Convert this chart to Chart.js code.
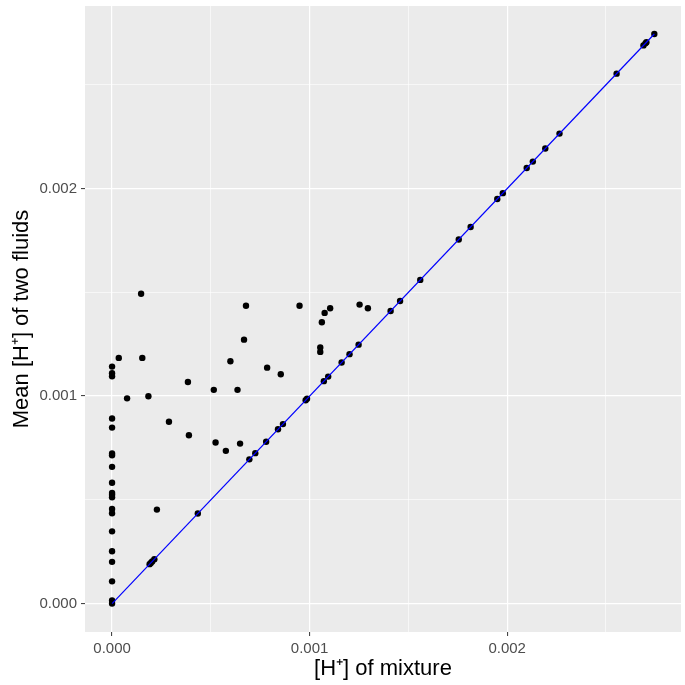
<!DOCTYPE html>
<html>
<head>
<meta charset="utf-8">
<script src="https://cdn.jsdelivr.net/npm/chart.js@4.4.1/dist/chart.umd.min.js"></script>
<style>
  html, body { margin: 0; padding: 0; background: #ffffff; }
  #plot { display: block; }
</style>
</head>
<body>
<canvas id="plot" width="685" height="685"></canvas>
<script>
// points off the identity line: [H+] of mixture vs mean [H+] of the two fluids
var mixX = [0, 0, 0, 0, 0, 0, 0, 0, 0, 0, 0, 0, 0, 0, 0, 0, 0, 0, 0,
  0.000034, 0.000076, 0.000147, 0.000153, 0.000184, 0.000227, 0.000288, 0.000384, 0.000389,
  0.000515, 0.000524, 0.000576, 0.000599, 0.000635, 0.000648, 0.000668, 0.000678, 0.000785,
  0.000854, 0.000949, 0.001054, 0.001054, 0.001062, 0.001076, 0.001104, 0.001253, 0.001295]
var meanY = [0.001142, 0.001110, 0.001095, 0.000892, 0.000848, 0.000723, 0.000715, 0.000659, 0.000582,
  0.000533, 0.000524, 0.000512, 0.000456, 0.000435, 0.000348, 0.000252, 0.000201, 0.000107, 0.000015,
  0.001184, 0.000989, 0.001493, 0.001184, 0.000999, 0.000453, 0.000876, 0.001068, 0.000811,
  0.001030, 0.000776, 0.000736, 0.001168, 0.001030, 0.000771, 0.001272, 0.001435, 0.001137,
  0.001105, 0.001435, 0.001234, 0.001213, 0.001356, 0.001401, 0.001423, 0.001441, 0.001423]

// points that sit on the line (same value on both axes)
var onLine = [0, 0.000190, 0.000196, 0.000203, 0.000214, 0.000434, 0.000695, 0.000725, 0.000780,
  0.000840, 0.000865, 0.000980, 0.000987, 0.001072, 0.001094, 0.001162, 0.001202, 0.001248,
  0.001410, 0.001458, 0.001560, 0.001755, 0.001815, 0.001950, 0.001978, 0.002099, 0.002130,
  0.002193, 0.002265, 0.002554, 0.002690, 0.002700, 0.002705, 0.002745]

var tickValues = [0, 0.0005, 0.001, 0.0015, 0.002, 0.0025]
var majorTicks = [0, 0.001, 0.002]
var axisMin = -0.000137
var axisMax = 0.00288

var points = []
for (var i = 0; i < mixX.length; i++) points.push({x: mixX[i], y: meanY[i]})
for (var j = 0; j < onLine.length; j++) points.push({x: onLine[j], y: onLine[j]})

var lineEnd = onLine[onLine.length - 1]

function isMajor(v) {
  return majorTicks.some(function (m) { return Math.abs(m - v) < 1e-9 })
}

var panelBg = {
  id: 'panelBg',
  beforeDraw: function (chart) {
    var a = chart.chartArea
    chart.ctx.save()
    chart.ctx.fillStyle = '#EBEBEB'
    chart.ctx.fillRect(a.left, a.top, a.right - a.left, a.bottom - a.top)
    chart.ctx.restore()
  }
}

var fontFam = '"Liberation Sans", Arial, Helvetica, sans-serif'

function axis(title, pos) {
  return {
    type: 'linear',
    position: pos,
    min: axisMin,
    max: axisMax,
    afterBuildTicks: function (scale) {
      scale.ticks = tickValues.map(function (v) { return {value: v} })
    },
    afterFit: function (scale) {
      if (pos === 'left') scale.width = 85
      else scale.height = 53
      scale.paddingTop = 0
      scale.paddingBottom = 0
      scale.paddingLeft = 0
      scale.paddingRight = 0
    },
    border: {display: false},
    grid: {
      color: '#FFFFFF',
      lineWidth: function (c) { return isMajor(c.tick.value) ? 1.2 : 0.6 },
      tickColor: function (c) { return isMajor(c.tick.value) ? '#333333' : 'rgba(0,0,0,0)' },
      tickLength: 4,
      tickWidth: 1
    },
    ticks: {
      color: '#4D4D4D',
      padding: 4,
      maxRotation: 0,
      autoSkip: false,
      font: {family: fontFam, size: 15},
      callback: function (v) { return isMajor(v) ? v.toFixed(3) : '' }
    },
    title: {
      display: true,
      text: title,
      color: '#000000',
      font: {family: fontFam, size: 22},
      padding: pos === 'left' ? {top: 9} : {bottom: 3}
    }
  }
}

var ctx = document.getElementById('plot')

var chart = new Chart(ctx, {
  type: 'scatter',
  data: {
    datasets: [{
      data: points,
      backgroundColor: '#000000',
      borderWidth: 0,
      pointRadius: 3.2,
      pointHoverRadius: 3.2,
      order: 2
    }, {
      type: 'line',
      data: [{x: 0, y: 0}, {x: lineEnd, y: lineEnd}],
      borderColor: '#0000FF',
      borderWidth: 1.2,
      pointRadius: 0,
      fill: false,
      order: 1
    }]
  },
  options: {
    responsive: false,
    animation: false,
    layout: {padding: {top: 6, right: 4, left: 0, bottom: 0}},
    plugins: {legend: {display: false}, tooltip: {enabled: false}},
    scales: {
      x: axis('[H\u207A] of mixture', 'bottom'),
      y: axis('Mean [H\u207A] of two fluids', 'left')
    }
  },
  plugins: [panelBg]
})
</script>
</body>
</html>
